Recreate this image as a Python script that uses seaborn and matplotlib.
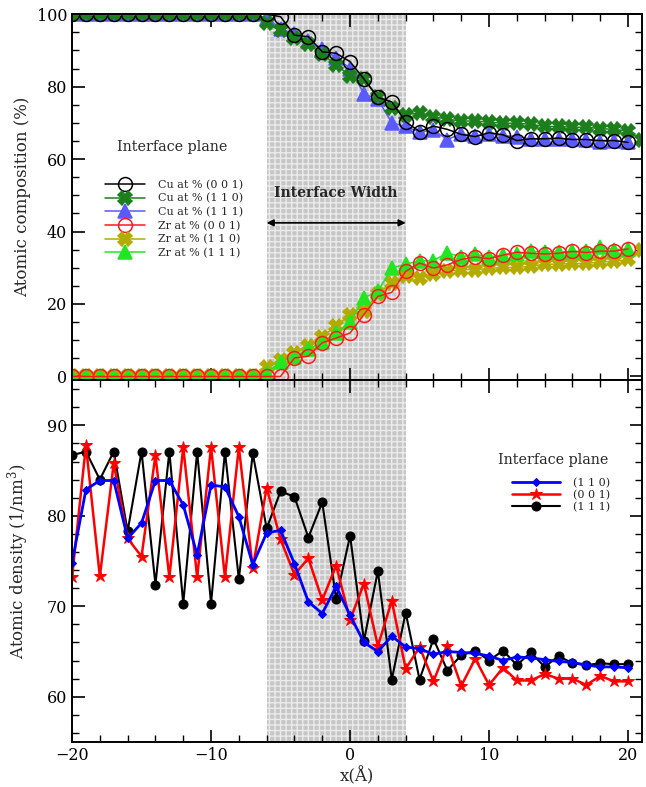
import numpy as np
import pandas as pd
import matplotlib
matplotlib.use("Agg")
import matplotlib.pyplot as plt
from matplotlib.ticker import MultipleLocator
import seaborn as sns

# ---- composition profiles (at %) ----
x_comp = list(range(-20, 21))          # -20 .. 20
x_comp_110 = list(range(-20, 22))      # -20 .. 21

cu_001 = [100] * 15 + [99.3, 94.2, 93.8, 89.6, 89.2, 86.9, 82.1, 77.0, 75.8, 70.3,
                       67.6, 69.1, 68.2, 66.8, 66.2, 67.3, 66.7, 65.1, 65.6, 65.6,
                       65.8, 65.4, 65.4, 65.1, 65.1, 64.6]
cu_110 = [100] * 14 + [97.5, 95.5, 93.5, 91.7, 89.0, 86.0, 83.0, 82.0, 77.2, 74.2,
                       72.3, 72.7, 71.7, 71.0, 70.5, 70.5, 70.2, 69.9, 69.9, 69.6,
                       69.0, 69.0, 68.8, 68.8, 68.4, 68.2, 67.7, 65.2]
cu_111 = [100] * 14 + [99.0, 96.0, 94.5, 92.5, 90.5, 88.0, 85.0, 78.0, 76.5, 70.0,
                       69.0, 67.5, 68.0, 65.4, 67.0, 66.3, 67.0, 66.5, 66.2, 65.5,
                       65.6, 65.6, 65.5, 65.3, 64.8, 65.0, 64.8]
zr_001 = [0] * 15 + [0.0, 5.1, 5.6, 9.3, 10.6, 12.0, 17.1, 22.1, 23.2, 29.0,
                     31.3, 29.9, 30.8, 32.3, 33.0, 32.5, 33.5, 34.3, 34.0, 33.8,
                     34.0, 34.5, 34.2, 34.6, 34.6, 35.2]
zr_110 = [0] * 14 + [2.5, 4.5, 6.5, 8.3, 11.0, 14.0, 17.0, 18.0, 22.8, 25.8,
                     27.7, 27.3, 28.3, 29.0, 29.5, 29.5, 29.8, 30.1, 30.1, 30.4,
                     31.0, 31.0, 31.2, 31.2, 31.6, 31.8, 32.3, 34.8]
zr_111 = [0] * 14 + [1.0, 4.0, 5.5, 7.5, 9.5, 12.0, 15.0, 21.7, 23.5, 29.9,
                     31.0, 31.9, 32.0, 34.1, 33.0, 33.7, 33.0, 33.5, 33.8, 34.5,
                     34.4, 34.4, 34.5, 34.7, 35.7, 35.0, 35.2]

# ---- atomic density profiles (1/nm^3) ----
x_dens = list(range(-20, 21))
dens_110 = [74.8, 82.9, 83.9, 83.9, 77.5, 79.2, 83.9, 83.9, 81.2, 75.7,
            83.4, 83.2, 79.9, 74.6, 78.1, 78.4, 74.7, 70.5, 69.2, 72.2,
            69.0, 66.0, 65.0, 66.7, 65.5, 65.3, 64.7, 65.0, 64.9, 64.8,
            64.5, 64.0, 64.4, 64.3, 64.1, 63.9, 63.8, 63.5, 63.3, 63.3, 63.2]
dens_001 = [73.2, 87.8, 73.3, 85.8, 77.5, 75.5, 86.7, 73.2, 87.6, 73.2,
            87.6, 73.2, 87.6, 74.2, 83.1, 77.4, 73.5, 75.3, 70.7, 74.5,
            68.5, 72.5, 65.6, 70.6, 63.1, 65.5, 61.7, 65.6, 61.2, 64.2,
            61.3, 63.2, 61.8, 61.8, 62.5, 62.0, 62.0, 61.3, 62.3, 61.7, 61.7]
dens_111 = [86.7, 87.1, 84.0, 87.1, 78.3, 87.1, 72.4, 87.1, 70.3, 87.1,
            70.3, 87.1, 73.0, 86.9, 78.6, 82.7, 82.1, 77.6, 81.5, 70.8,
            77.8, 66.2, 73.9, 61.9, 69.3, 61.9, 66.4, 62.9, 64.6, 65.1,
            64.0, 65.1, 63.5, 64.9, 63.3, 64.5, 63.7, 63.5, 63.7, 63.6, 63.6]

interface_lo, interface_hi = -6, 4

sns.set_style("ticks")
plt.rcParams["font.family"] = ["DejaVu Serif"]
plt.rcParams["mathtext.fontset"] = "dejavuserif"

fig, (ax1, ax2) = plt.subplots(
    2, 1, sharex=True, figsize=(6.46, 7.87), dpi=100,
    gridspec_kw=dict(height_ratios=[366, 362], hspace=0))
fig.subplots_adjust(left=0.1115, right=0.9938, top=0.982, bottom=0.0572)

for ax in (ax1, ax2):
    ax.axvspan(interface_lo, interface_hi, facecolor="#c6c6c6",
               edgecolor="#ebebeb", hatch="+++", linewidth=0, zorder=0)

# composition panel
comp_series = [
    (x_comp, cu_111, "Cu at % (1 1 1)", "#5a5aff", "^", "#5a5aff"),
    (x_comp_110, cu_110, "Cu at % (1 1 0)", "#1c7f1c", "X", "#1c7f1c"),
    (x_comp, cu_001, "Cu at % (0 0 1)", "black", "o", "none"),
    (x_comp_110, zr_110, "Zr at % (1 1 0)", "#b3ab00", "X", "#b3ab00"),
    (x_comp, zr_111, "Zr at % (1 1 1)", "#22e622", "^", "#22e622"),
    (x_comp, zr_001, "Zr at % (0 0 1)", "#ff1a1a", "o", "none"),
]
handles = {}
for xs, ys, lab, col, mk, fc in comp_series:
    df = pd.DataFrame({"x": xs, "y": ys})
    sns.lineplot(data=df, x="x", y="y", ax=ax1, color=col, marker=mk,
                 markersize=10, markerfacecolor=fc, markeredgecolor=col,
                 markeredgewidth=1.1, linewidth=1.1, sort=False, label=lab)
    line = ax1.get_lines()[-1]
    line.set_clip_on(True)
    handles[lab] = line

order = ["Cu at % (0 0 1)", "Cu at % (1 1 0)", "Cu at % (1 1 1)",
         "Zr at % (0 0 1)", "Zr at % (1 1 0)", "Zr at % (1 1 1)"]
ax1.legend([handles[k] for k in order], order, loc="upper left",
           bbox_to_anchor=(0.050, 0.560), frameon=False, fontsize=8,
           handlelength=3.6, handletextpad=1.2, labelspacing=0.3,
           borderaxespad=0)
ax1.text(-12.8, 63.4, "Interface plane", ha="center", va="center", fontsize=10.3)
ax1.annotate("", xy=(interface_lo, 42.4), xytext=(interface_hi, 42.4),
             arrowprops=dict(arrowstyle="<|-|>", color="black", lw=1.2,
                             mutation_scale=10, shrinkA=0, shrinkB=0))
ax1.text(-1.0, 50.6, "Interface Width", ha="center", va="center",
         fontsize=10, fontweight="bold")

ax1.set_ylim(-1, 100)
ax1.yaxis.set_major_locator(MultipleLocator(20))
ax1.yaxis.set_minor_locator(MultipleLocator(5))
ax1.set_ylabel("Atomic composition (%)", fontsize=12)

# density panel
dens_series = [
    (dens_111, "(1 1 1)", "black", "o", 6.5, 1.5),
    (dens_001, "(0 0 1)", "#ff0000", "*", 9, 1.8),
    (dens_110, "(1 1 0)", "#0000ff", "D", 4.5, 2.0),
]
dh = {}
for ys, lab, col, mk, ms, lw in dens_series:
    df = pd.DataFrame({"x": x_dens, "y": ys})
    sns.lineplot(data=df, x="x", y="y", ax=ax2, color=col, marker=mk,
                 markersize=ms, markerfacecolor=col, markeredgecolor=col,
                 linewidth=lw, sort=False, label=lab)
    dh[lab] = ax2.get_lines()[-1]

order2 = ["(1 1 0)", "(0 0 1)", "(1 1 1)"]
ax2.legend([dh[k] for k in order2], order2, loc="upper left",
           bbox_to_anchor=(0.764, 0.742), frameon=False, fontsize=8,
           handlelength=4.3, handletextpad=1.2, labelspacing=0.15,
           borderaxespad=0)
ax2.text(14.6, 86.2, "Interface plane", ha="center", va="center", fontsize=10.3)

ax2.set_ylim(55, 95)
ax2.yaxis.set_major_locator(MultipleLocator(10))
ax2.yaxis.set_minor_locator(MultipleLocator(2))
ax2.set_ylabel("Atomic density (1/nm$^3$)", fontsize=12)

ax2.set_xlim(-20, 21)
ax2.xaxis.set_major_locator(MultipleLocator(10))
ax2.xaxis.set_minor_locator(MultipleLocator(2))
ax2.set_xlabel("x(Å)", fontsize=12, labelpad=2)
ax1.set_xlabel("")

for ax in (ax1, ax2):
    ax.tick_params(which="both", direction="in", top=True, right=True,
                   labelsize=11.5, colors="black")
    ax.tick_params(which="major", length=9, width=1.2)
    ax.tick_params(which="minor", length=5, width=1.0)
    for s in ax.spines.values():
        s.set_linewidth(1.4)
        s.set_color("black")

ax1.tick_params(labelbottom=False)
ax1.yaxis.set_label_coords(-0.072, 0.5)
ax2.yaxis.set_label_coords(-0.072, 0.5)

fig.savefig("out.png", dpi=100)
